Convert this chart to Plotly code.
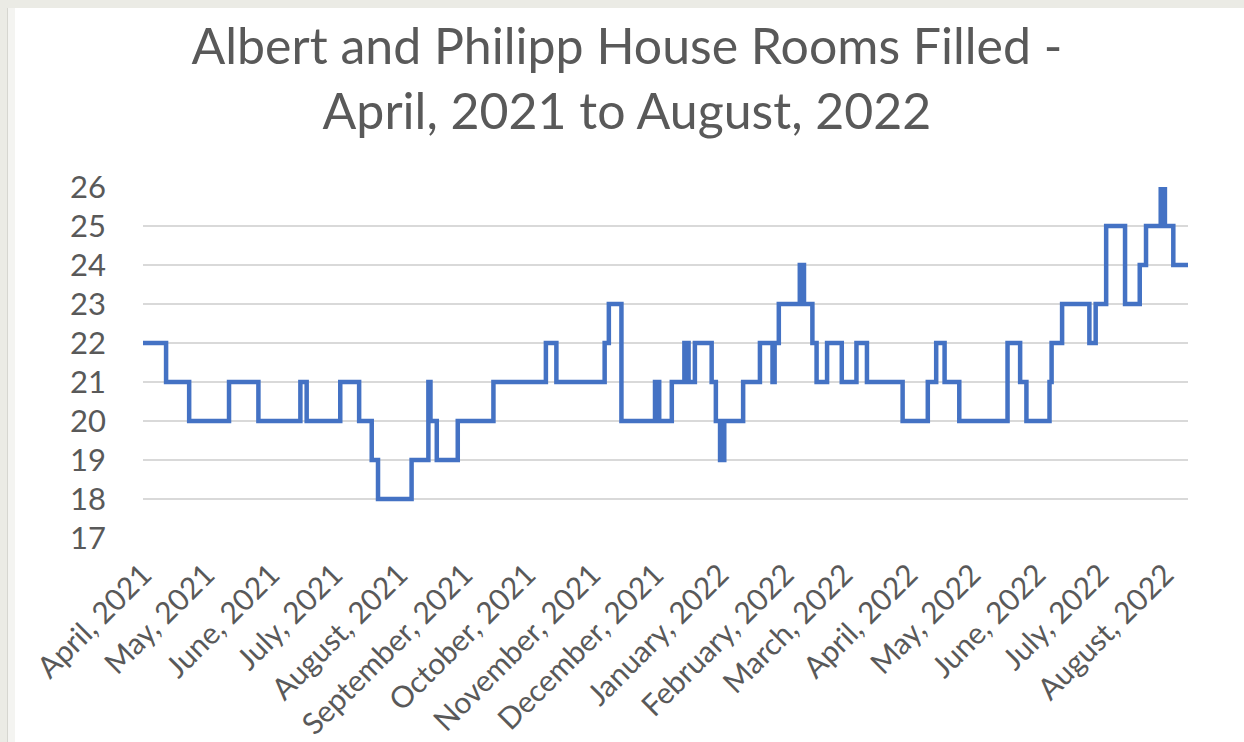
import plotly.graph_objects as go

# ---- data ----
change_dates = [
    "2021-04-01", "2021-04-12", "2021-04-23", "2021-05-12", "2021-05-26",
    "2021-06-15", "2021-06-18", "2021-07-04", "2021-07-13", "2021-07-19",
    "2021-07-22", "2021-08-07", "2021-08-15", "2021-08-16", "2021-08-19",
    "2021-08-29", "2021-09-15", "2021-10-10", "2021-10-15", "2021-11-07",
    "2021-11-09", "2021-11-15", "2021-12-01", "2021-12-03", "2021-12-09",
    "2021-12-15", "2021-12-17", "2021-12-20", "2021-12-28", "2021-12-30",
    "2022-01-01", "2022-01-03", "2022-01-12", "2022-01-20", "2022-01-26",
    "2022-01-27", "2022-01-29", "2022-02-08", "2022-02-10", "2022-02-14",
    "2022-02-16", "2022-02-21", "2022-02-28", "2022-03-07", "2022-03-12",
    "2022-03-29", "2022-04-10", "2022-04-14", "2022-04-18", "2022-04-25",
    "2022-05-18", "2022-05-24", "2022-05-27", "2022-06-07", "2022-06-08",
    "2022-06-13", "2022-06-26", "2022-06-29", "2022-07-04", "2022-07-13",
    "2022-07-20", "2022-07-23", "2022-07-30", "2022-08-01", "2022-08-05",
    "2022-08-12",
]
rooms_filled = [
    22, 21, 20, 21, 20,
    21, 20, 21, 20, 19,
    18, 19, 21, 20, 19,
    20, 21, 22, 21, 22,
    23, 20, 21, 20, 21,
    22, 21, 22, 21, 20,
    19, 20, 21, 22, 21,
    22, 23, 24, 23, 22,
    21, 22, 21, 22, 21,
    20, 21, 22, 21, 20,
    22, 21, 20, 21, 22,
    23, 22, 23, 25, 23,
    24, 25, 26, 25, 24,
    24,
]
tick_dates = [
    "2021-04-01", "2021-05-01", "2021-06-01", "2021-07-01", "2021-08-01",
    "2021-09-01", "2021-10-01", "2021-11-01", "2021-12-01", "2022-01-01",
    "2022-02-01", "2022-03-01", "2022-04-01", "2022-05-01", "2022-06-01",
    "2022-07-01", "2022-08-01",
]
tick_labels = [
    "April, 2021", "May, 2021", "June, 2021", "July, 2021", "August, 2021",
    "September, 2021", "October, 2021", "November, 2021", "December, 2021",
    "January, 2022", "February, 2022", "March, 2022", "April, 2022",
    "May, 2022", "June, 2022", "July, 2022", "August, 2022",
]
y_ticks = [17, 18, 19, 20, 21, 22, 23, 24, 25, 26]

# ---- layout constants ----
W, H = 1244, 742
ML, MR, MT, MB = 143, 56, 187, 204
PW, PH = W - ML - MR, H - MT - MB
FONT = "Lato"
GREY_TXT = "#595959"

fig = go.Figure()
fig.add_trace(go.Scatter(
    x=change_dates, y=rooms_filled, mode="lines", line_shape="hv",
    line=dict(color="#4472C4", width=4.5), showlegend=False,
))


def px_to_paper_x(px):
    return (px - ML) / PW


def px_to_paper_y(py):
    return 1 - (py - MT) / PH


shapes = [
    # light grey frame outside the chart area (left and top)
    dict(type="rect", xref="paper", yref="paper", layer="below",
         x0=px_to_paper_x(0), x1=px_to_paper_x(7), y0=px_to_paper_y(H), y1=px_to_paper_y(0),
         fillcolor="#ebebe5", line=dict(width=0)),
    dict(type="rect", xref="paper", yref="paper", layer="below",
         x0=px_to_paper_x(7), x1=px_to_paper_x(15), y0=px_to_paper_y(H), y1=px_to_paper_y(8),
         fillcolor="#f4f4f1", line=dict(width=0)),
    dict(type="rect", xref="paper", yref="paper", layer="below",
         x0=px_to_paper_x(0), x1=px_to_paper_x(W), y0=px_to_paper_y(8), y1=px_to_paper_y(0),
         fillcolor="#ebebe5", line=dict(width=0)),
    dict(type="line", xref="paper", yref="paper", layer="below",
         x0=px_to_paper_x(7.5), x1=px_to_paper_x(7.5), y0=px_to_paper_y(H), y1=px_to_paper_y(8),
         line=dict(color="#d6d6d0", width=1)),
]

fig.update_layout(
    width=W, height=H,
    margin=dict(l=ML, r=MR, t=MT, b=MB, autoexpand=False),
    paper_bgcolor="white", plot_bgcolor="white",
    font=dict(family=FONT, color=GREY_TXT),
    title=dict(
        text="Albert and Philipp House Rooms Filled -<br>April, 2021 to August, 2022",
        font=dict(family=FONT, size=50, color=GREY_TXT),
        x=0.504, xanchor="center", xref="container",
        y=1 - 64 / H, yanchor="top", yref="container",
    ),
    shapes=shapes,
    xaxis=dict(
        type="date", range=["2021-04-01", "2022-08-12"],
        tickmode="array", tickvals=tick_dates, ticktext=tick_labels,
        tickangle=-45, tickfont=dict(family=FONT, size=30, color=GREY_TXT),
        showgrid=False, zeroline=False, showline=False, ticks="",
        ticklabelstandoff=12, automargin=False,
    ),
    yaxis=dict(
        range=[17, 26], tickmode="array", tickvals=y_ticks,
        tickfont=dict(family=FONT, size=31, color=GREY_TXT),
        showgrid=True, gridcolor="#d9d9d9", gridwidth=1.5,
        zeroline=False, showline=False, ticks="",
        ticklabelstandoff=36, automargin=False,
    ),
)

fig.write_html("out.html")
